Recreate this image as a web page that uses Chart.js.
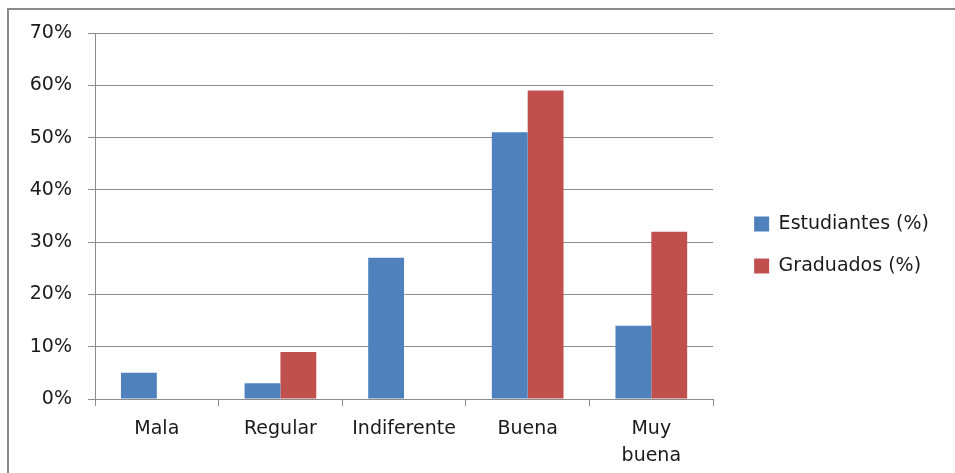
<!DOCTYPE html>
<html>
<head>
<meta charset="utf-8">
<script src="https://cdn.jsdelivr.net/npm/chart.js@4/dist/chart.umd.min.js"></script>
<style>
  html, body { margin: 0; padding: 0; background: #fff; }
  #wrap { position: relative; width: 955px; height: 473px; overflow: hidden; }
  #frame { position: absolute; left: 7px; top: 8px; width: 1000px; height: 500px;
           border-left: 2px solid #8a8a8a; border-top: 2px solid #8a8a8a; }
  canvas { position: absolute; left: 0; top: 0; }
</style>
</head>
<body>
<div id="wrap">
  <div id="frame"></div>
  <canvas id="chart" width="955" height="473"></canvas>
</div>
<script>
// Categories and series
const categories = ["Mala", "Regular", "Indiferente", "Buena", ["Muy", "buena"]];
const estudiantes = [5, 3, 27, 51, 14];
const graduados = [0, 9, 0, 59, 32];
const yTicks = [0, 10, 20, 30, 40, 50, 60, 70];

const BLUE = "#4f81bd";
const RED = "#c0504d";
const GRID = "#8c8c8c";
const FONT = { family: "DejaVu Sans", size: 19 };
const XFONT = { family: "DejaVu Sans", size: 19, lineHeight: 1.4 };

// The legend sits further from the plot than Chart.js leaves room for:
// make its box wider and draw its items shifted right (and a bit up)
const LEGEND_GAP = 18;
const LEGEND_LIFT = 8;
const legendGap = {
  id: "legendGap",
  afterInit(chart) {
    const lg = chart.legend;
    const fit = lg.fit.bind(lg);
    const draw = lg.draw.bind(lg);
    lg.fit = function () { fit(); this.width += LEGEND_GAP; };
    lg.draw = function () {
      this.ctx.save();
      this.ctx.translate(LEGEND_GAP, -LEGEND_LIFT);
      draw();
      this.ctx.restore();
    };
  },
};

new Chart(document.getElementById("chart"), {
  type: "bar",
  data: {
    labels: categories,
    datasets: [
      { label: "Estudiantes (%)", data: estudiantes, backgroundColor: BLUE },
      { label: "Graduados (%)", data: graduados, backgroundColor: RED },
    ],
  },
  options: {
    responsive: false,
    animation: false,
    layout: { padding: { left: 15, top: 33, right: 16, bottom: 0 } },
    datasets: { bar: { categoryPercentage: 0.58, barPercentage: 1 } },
    scales: {
      x: {
        grid: { drawOnChartArea: false, drawTicks: true, tickLength: 7, color: GRID },
        border: { color: GRID, width: 1 },
        ticks: { font: XFONT, color: "#1a1a1a", padding: 10, maxRotation: 0 },
        afterFit: s => { s.height = 74; },
      },
      y: {
        min: 0,
        max: 70,
        afterBuildTicks: s => { s.ticks = yTicks.map(v => ({ value: v })); },
        grid: { color: GRID, tickLength: 7 },
        border: { color: GRID, width: 1 },
        ticks: { font: FONT, color: "#1a1a1a", padding: 16, callback: v => v + "%" },
        afterFit: s => { s.width = 80; },
      },
    },
    plugins: {
      legend: {
        position: "right",
        align: "center",
        labels: { font: FONT, color: "#1a1a1a", boxWidth: 15, boxHeight: 15, padding: 23 },
      },
      tooltip: { enabled: false },
    },
  },
  plugins: [legendGap],
});
</script>
</body>
</html>
